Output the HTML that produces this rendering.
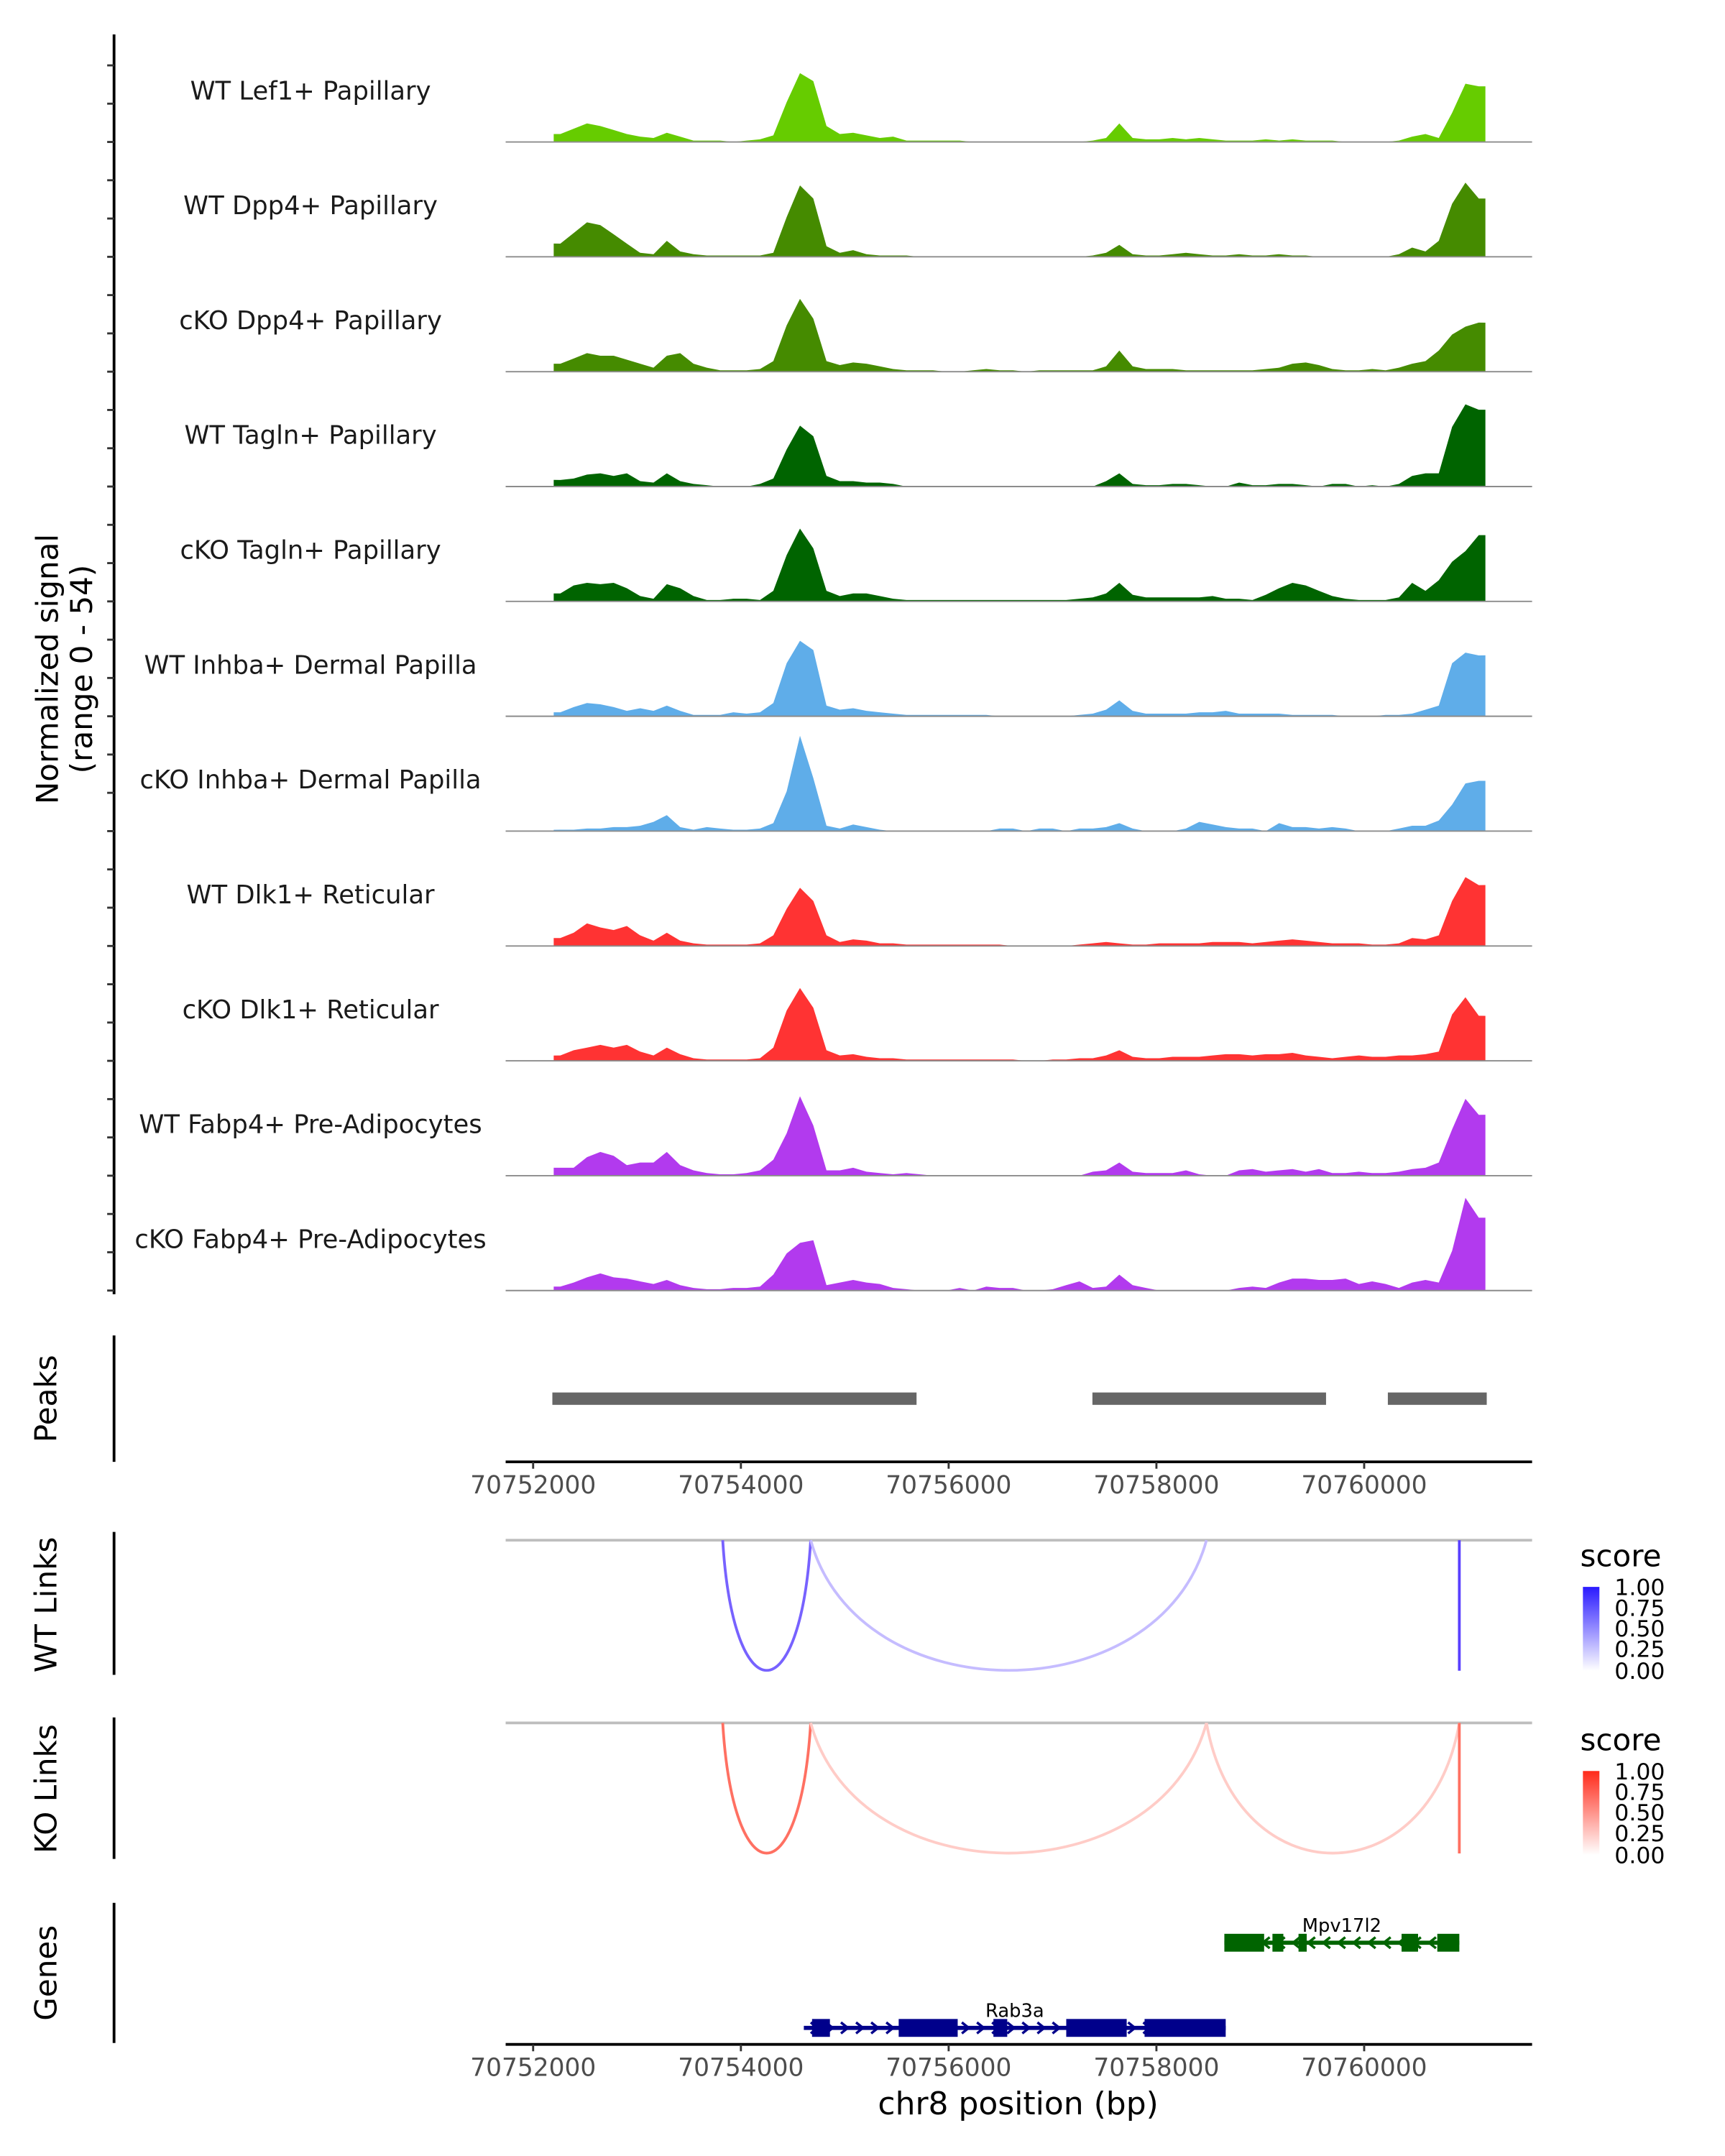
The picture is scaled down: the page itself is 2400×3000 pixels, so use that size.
<!DOCTYPE html>
<html><head><meta charset="utf-8"><style>
html,body{margin:0;padding:0;background:#fff}
svg{display:block}
text{font-family:"DejaVu Sans","Liberation Sans",sans-serif}
</style></head><body>
<svg id="chart" width="2400" height="3000" viewBox="0 0 1255.4 1569.2" xmlns="http://www.w3.org/2000/svg">
<rect width="1256" height="1570" fill="#fff"/>
<g id="tracks"></g>
<line x1="83" y1="25" x2="83" y2="942" stroke="#000" stroke-width="2"/>
<g id="yticks"></g>
<text transform="translate(42,487) rotate(-90)" text-anchor="middle" font-size="22" fill="#000">Normalized signal</text>
<text transform="translate(67,487) rotate(-90)" text-anchor="middle" font-size="22" fill="#000">(range 0 - 54)</text>

<line x1="83" y1="972" x2="83" y2="1064" stroke="#000" stroke-width="2"/>
<text transform="translate(41,1018) rotate(-90)" text-anchor="middle" font-size="22">Peaks</text>
<g id="peaks"></g>
<g id="axis1"></g>

<line x1="83" y1="1115" x2="83" y2="1219" stroke="#000" stroke-width="2"/>
<text transform="translate(41,1168) rotate(-90)" text-anchor="middle" font-size="22">WT Links</text>
<g id="wtlinks"></g>

<line x1="83" y1="1250" x2="83" y2="1353" stroke="#000" stroke-width="2"/>
<text transform="translate(41,1302) rotate(-90)" text-anchor="middle" font-size="22">KO Links</text>
<g id="kolinks"></g>

<defs>
<linearGradient id="gb" x1="0" y1="1" x2="0" y2="0"><stop offset="0" stop-color="#ffffff"/><stop offset="1" stop-color="#2a1aff"/></linearGradient>
<linearGradient id="gr" x1="0" y1="1" x2="0" y2="0"><stop offset="0" stop-color="#ffffff"/><stop offset="1" stop-color="#ff2a1a"/></linearGradient>
</defs>
<g>
<text x="1150" y="1140" font-size="22">score</text>
<rect x="1152" y="1155" width="12" height="61" fill="url(#gb)"/>
<g font-size="16.5" fill="#000">
<text x="1175" y="1161">1.00</text><text x="1175" y="1176">0.75</text><text x="1175" y="1191">0.50</text><text x="1175" y="1206">0.25</text><text x="1175" y="1222">0.00</text></g>
</g>
<g>
<text x="1150" y="1274" font-size="22">score</text>
<rect x="1152" y="1289" width="12" height="61" fill="url(#gr)"/>
<g font-size="16.5" fill="#000">
<text x="1175" y="1295">1.00</text><text x="1175" y="1310">0.75</text><text x="1175" y="1325">0.50</text><text x="1175" y="1340">0.25</text><text x="1175" y="1356">0.00</text></g>
</g>

<line x1="83" y1="1385" x2="83" y2="1487" stroke="#000" stroke-width="2"/>
<text transform="translate(41,1436) rotate(-90)" text-anchor="middle" font-size="22">Genes</text>
<g id="genes"></g>
<g id="axis2"></g>
<text x="741" y="1539" text-anchor="middle" font-size="23">chr8 position (bp)</text>
</svg>
<script>
const trackNames=["WT Lef1+ Papillary","WT Dpp4+ Papillary","cKO Dpp4+ Papillary","WT Tagln+ Papillary","cKO Tagln+ Papillary","WT Inhba+ Dermal Papilla","cKO Inhba+ Dermal Papilla","WT Dlk1+ Reticular","cKO Dlk1+ Reticular","WT Fabp4+ Pre-Adipocytes","cKO Fabp4+ Pre-Adipocytes"];
const trackColors=["#66cc00","#458b00","#458b00","#006400","#006400","#5fade9","#5fade9","#ff3333","#ff3333","#b23aee","#b23aee"];
const sigLef1WT=[6,10,14,12,9,6,4,3,7,4,1,1,1,0,1,2,5,30,52,46,12,6,7,5,3,4,1,1,1,1,1,0,0,0,0,0,0,0,0,0,1,3,14,3,2,2,3,2,3,2,1,1,1,2,1,2,1,1,1,0,0,0,0,1,4,6,3,22,44,42];
const sigDpp4WT=[10,18,26,24,17,10,3,2,12,4,2,1,1,1,1,1,3,30,54,44,8,3,5,2,1,1,1,0,0,0,0,0,0,0,0,0,0,0,0,0,1,3,9,2,1,1,2,3,2,1,1,2,1,1,2,1,1,0,0,0,0,0,0,2,7,4,12,40,56,44];
const sigDpp4KO=[6,10,14,12,12,9,6,3,12,14,6,3,1,1,1,2,8,35,55,40,8,5,7,6,4,2,1,1,1,0,0,1,2,1,1,0,1,1,1,1,1,4,16,4,2,2,2,1,1,1,1,1,1,2,3,6,7,5,2,1,1,2,1,3,6,8,16,28,34,37];
const sigTaglnWT=[5,6,9,10,8,10,4,3,10,4,2,1,0,0,0,2,6,28,46,38,8,4,4,3,3,2,0,0,0,0,0,0,0,0,0,0,0,0,0,0,0,4,10,2,1,1,2,2,1,0,0,3,1,1,2,2,1,0,2,2,0,1,0,2,8,10,10,45,62,58];
const sigTaglnKO=[6,12,14,13,14,10,4,2,13,10,4,1,1,2,2,1,8,35,55,40,8,4,6,6,4,2,1,1,1,1,1,1,1,1,1,1,1,1,1,2,3,6,14,5,3,3,3,3,3,4,2,2,1,5,10,14,12,8,4,2,1,1,1,3,14,8,16,30,38,50];
const sigInhbaWT=[3,7,10,9,7,4,6,4,8,4,1,1,1,3,2,3,10,40,57,50,8,5,6,4,3,2,1,1,1,1,1,1,1,0,0,0,0,0,0,1,2,5,12,4,2,2,2,2,3,3,4,2,2,2,2,1,1,1,1,0,0,0,1,1,2,5,8,40,48,46];
const sigInhbaKO=[1,1,2,2,3,3,4,7,12,3,1,3,2,1,1,2,6,30,72,40,4,2,5,3,1,0,0,0,0,0,0,0,0,2,2,0,2,2,0,2,2,3,6,2,0,0,0,2,7,5,3,2,2,0,6,3,3,2,3,2,0,0,0,2,4,4,8,20,36,38];
const sigDlk1WT=[6,10,17,14,12,15,8,4,10,4,2,1,1,1,1,2,8,28,44,34,8,3,5,4,2,2,1,1,1,1,1,1,1,1,0,0,0,0,0,1,2,3,2,1,1,2,2,2,2,3,3,3,2,3,4,5,4,3,2,2,2,1,1,2,6,5,8,34,52,46];
const sigDlk1KO=[4,8,10,12,10,12,7,4,10,5,2,1,1,1,1,2,10,38,55,40,8,4,5,3,2,2,1,1,1,1,1,1,1,1,1,0,0,1,1,2,2,4,8,3,2,2,3,3,3,4,5,5,4,5,5,6,4,3,2,3,4,3,3,4,4,5,7,35,48,34];
const sigFabp4WT=[6,6,14,18,15,8,10,10,18,8,4,2,1,1,2,4,12,32,60,38,4,4,6,3,2,1,2,1,0,0,0,0,0,0,0,0,0,0,0,0,3,4,10,3,2,2,2,4,1,0,0,4,5,3,4,5,3,5,2,2,3,2,2,3,5,6,10,35,58,46];
const sigFabp4KO=[3,6,10,13,10,9,7,5,8,4,2,1,1,2,2,3,12,28,36,38,4,6,8,6,5,2,1,0,0,0,2,0,3,2,2,0,0,1,4,7,2,3,12,4,2,0,0,0,0,0,0,2,3,2,6,9,9,8,8,9,5,7,5,2,6,8,6,30,70,55];
const signals=[sigLef1WT,sigDpp4WT,sigDpp4KO,sigTaglnWT,sigTaglnKO,sigInhbaWT,sigInhbaKO,sigDlk1WT,sigDlk1KO,sigFabp4WT,sigFabp4KO];
const regionStart=70752198, regionEnd=70761167;
const xTicks=[70752000,70754000,70756000,70758000,70760000];
const peakStarts=[70752185,70757384,70760228];
const peakEnds=[70755691,70759633,70761180];
const wtLinkStarts=[70753825,70754672,70760916];
const wtLinkEnds=[70754672,70758482,70760916];
const wtLinkScores=[0.7,0.3,0.85];
const koLinkStarts=[70753825,70754672,70758482,70760916];
const koLinkEnds=[70754672,70758482,70760916,70760916];
const koLinkScores=[0.7,0.25,0.25,0.7];
const geneNames=["Mpv17l2","Rab3a"];
const geneStarts=[70758654,70754606];
const geneEnds=[70760916,70758667];
const geneStrands=[-1,1];
const mpvExonStarts=[70758654,70759117,70759368,70760360,70760704];
const mpvExonEnds=[70759037,70759222,70759447,70760519,70760916];
const rabExonStarts=[70754685,70755519,70756431,70757132,70757886];
const rabExonEnds=[70754857,70756087,70756564,70757714,70758667];

const NS="http://www.w3.org/2000/svg";
function mk(tag,attrs,parent){const e=document.createElementNS(NS,tag);for(const k in attrs)e.setAttribute(k,attrs[k]);parent.appendChild(e);return e;}
function xS(bp){return 388+(bp-70752000)*0.0756;}
const trackH=83.6, base0=103.3, yMax=83;
function yS(v,base){return base-v/yMax*80;}

const tracks=document.getElementById('tracks');
const yt=document.getElementById('yticks');
signals.forEach((s,i)=>{
  const base=base0+i*trackH;
  const g=mk('g',{},tracks);
  
  
  const bw=(regionEnd-regionStart)/s.length;
  let d='M'+xS(regionStart)+','+base+' L'+xS(regionStart)+','+yS(s[0],base);
  s.forEach((v,j)=>{d+=' L'+xS(regionStart+bw*(j+0.5)).toFixed(1)+','+yS(v,base).toFixed(1);});
  d+=' L'+xS(regionEnd)+','+yS(s[s.length-1],base)+' L'+xS(regionEnd)+','+base+' Z';
  const p=mk('path',{d:d,fill:trackColors[i]},g);
  
  
  const bl=mk('line',{x1:368,x2:1115,y1:base,y2:base,stroke:'#8c8c8c','stroke-width':1},g);
  
  
  const t=mk('text',{x:226,y:base-31,'text-anchor':'middle','font-size':18.5,fill:'#1a1a1a'},g);
  
  
  t.textContent=trackNames[i];
  for(let k=0;k<3;k++){
    const ty=base-k*trackH/3;
    const tk=mk('line',{x1:78,x2:83,y1:ty,y2:ty,stroke:'#333','stroke-width':1.5},yt);
    
    
  }
});

const pk=document.getElementById('peaks');
peakStarts.forEach((s,i)=>{
  const r=mk('rect',{x:xS(s),y:1013.5,width:xS(peakEnds[i])-xS(s),height:9,fill:'#666'},pk);
  
  
});

function axis(id,y){
  const g=document.getElementById(id);
  const l=mk('line',{x1:368,x2:1115,y1:y,y2:y,stroke:'#000','stroke-width':2},g);
  
  
  xTicks.forEach(v=>{
    const tk=mk('line',{x1:xS(v),x2:xS(v),y1:y,y2:y+5,stroke:'#333','stroke-width':1.5},g);
    
    
    const t=mk('text',{x:xS(v),y:y+23,'text-anchor':'middle','font-size':18,fill:'#4d4d4d'},g);
    
    
    t.textContent=v;
  });
}
axis('axis1',1064);
axis('axis2',1488);

function mix(c,s){const r=Math.round(255+(c[0]-255)*s),g=Math.round(255+(c[1]-255)*s),b=Math.round(255+(c[2]-255)*s);return `rgb(${r},${g},${b})`;}
function links(id,top,starts,ends,scores,col){
  const g=document.getElementById(id);
  const gl=mk('line',{x1:368,x2:1115,y1:top,y2:top,stroke:'#bebebe','stroke-width':2},g);
  
  
  const depth=95;
  starts.forEach((s,i)=>{
    const x1=xS(s),x2=xS(ends[i]);
    let d;
    if(Math.abs(x2-x1)<1) d=`M${x1},${top} L${x1},${top+depth}`;
    else d=`M${x1},${top} C${x1+(x2-x1)*0.12},${top+depth*1.33} ${x2-(x2-x1)*0.12},${top+depth*1.33} ${x2},${top}`;
    const p=mk('path',{d:d,fill:'none',stroke:mix(col,scores[i]),'stroke-width':2},g);
    
    
  });
}
links('wtlinks',1121,wtLinkStarts,wtLinkEnds,wtLinkScores,[60,30,255]);
links('kolinks',1254,koLinkStarts,koLinkEnds,koLinkScores,[255,50,30]);

const gn=document.getElementById('genes');
function gene(i,y,es,ee,col){
  const g=mk('g',{},gn);
  
  
  const x1=xS(geneStarts[i]),x2=xS(geneEnds[i]);
  mk('line',{x1:x1,x2:x2,y1:y,y2:y,stroke:col,'stroke-width':3},g);
  for(let x=x1+8;x<x2-4;x+=11){
    const dir=geneStrands[i];
    mk('path',{d:`M${x-3*dir},${y-4} L${x+2*dir},${y} L${x-3*dir},${y+4}`,fill:'none',stroke:col,'stroke-width':1.8},g);
  }
  es.forEach((s,j)=>{
    const r=mk('rect',{x:xS(s),y:y-6.5,width:xS(ee[j])-xS(s),height:13,fill:col},g);
    
    
  });
  const t=mk('text',{x:(x1+x2)/2,y:y-8,'text-anchor':'middle','font-size':13.5,fill:'#000'},g);
  
  
  t.textContent=geneNames[i];
}
gene(0,1414,mpvExonStarts,mpvExonEnds,'#006400');
gene(1,1476,rabExonStarts,rabExonEnds,'#00008b');
</script>
</body></html>
